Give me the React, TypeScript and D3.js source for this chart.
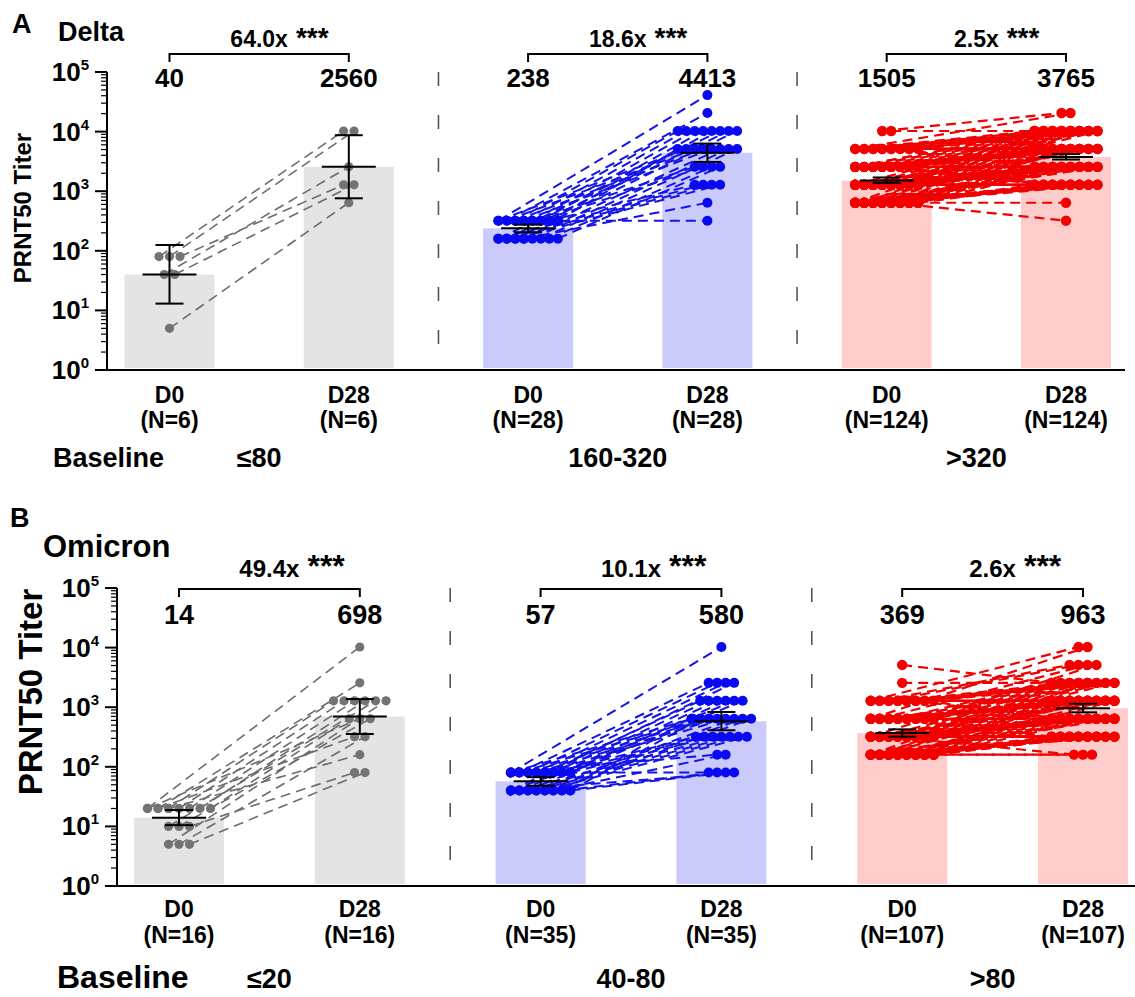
import React from 'react';
import * as d3 from 'd3';

const WIDTH = 1135;
const HEIGHT = 997;

type Triple = [number, number, number]; // [D0 titer, D28 titer, number of subjects]

const timepoints = ['D0', 'D28'];

// ---- Delta ----
const deltaBaseline = ['≤80', '160-320', '>320'];
const deltaN = [6, 28, 124];
const deltaGMT = [[40, 2560], [238, 4413], [1505, 3765]];
const deltaFold = ['64.0x', '18.6x', '2.5x'];
const deltaCI = [
  [[13, 125], [760, 8700]],
  [[205, 275], [3100, 6300]],
  [[1380, 1700], [3400, 4200]],
];
const deltaPairs: Triple[][] = [
  [[80, 10240, 2], [80, 1280, 1], [40, 2560, 1], [40, 1280, 1], [5, 640, 1]],
  [
    [320, 40960, 1], [320, 20480, 1], [320, 10240, 5], [320, 5120, 5], [320, 2560, 2], [320, 1280, 1], [320, 320, 1],
    [160, 10240, 3], [160, 5120, 3], [160, 2560, 2], [160, 1280, 3], [160, 640, 1],
  ],
  [
    [10240, 20480, 1], [10240, 10240, 1],
    [5120, 20480, 1], [5120, 10240, 8], [5120, 5120, 4], [5120, 2560, 1], [5120, 1280, 1],
    [2560, 10240, 10], [2560, 5120, 10], [2560, 2560, 7], [2560, 1280, 3],
    [1280, 10240, 7], [1280, 5120, 10], [1280, 2560, 15], [1280, 1280, 8],
    [640, 10240, 4], [640, 5120, 6], [640, 2560, 15], [640, 1280, 10], [640, 640, 1], [640, 320, 1],
  ],
];

// ---- Omicron ----
const omicronBaseline = ['≤20', '40-80', '>80'];
const omicronN = [16, 35, 107];
const omicronGMT = [[14, 698], [57, 580], [369, 963]];
const omicronFold = ['49.4x', '10.1x', '2.6x'];
const omicronCI = [
  [[10.5, 18.8], [355, 1370]],
  [[48, 67], [410, 830]],
  [[320, 425], [820, 1140]],
];
const omicronPairs: Triple[][] = [
  [
    [20, 10240, 1], [20, 2560, 1], [20, 1280, 4], [20, 640, 2], [20, 320, 1], [20, 160, 1],
    [10, 1280, 1], [10, 640, 1], [10, 80, 1],
    [5, 1280, 1], [5, 320, 1], [5, 80, 1],
  ],
  [
    [80, 10240, 1], [80, 2560, 3], [80, 1280, 4], [80, 640, 5], [80, 320, 3], [80, 160, 1], [80, 80, 1],
    [40, 2560, 1], [40, 1280, 2], [40, 640, 6], [40, 320, 4], [40, 160, 1], [40, 80, 3],
  ],
  [
    [5120, 2560, 1], [2560, 2560, 1],
    [1280, 10240, 1], [1280, 5120, 2], [1280, 2560, 5], [1280, 1280, 5], [1280, 640, 2],
    [640, 10240, 1], [640, 5120, 1], [640, 2560, 6], [640, 1280, 7], [640, 640, 4], [640, 320, 1],
    [320, 5120, 1], [320, 2560, 5], [320, 1280, 10], [320, 640, 10], [320, 320, 8], [320, 160, 1],
    [160, 2560, 3], [160, 1280, 7], [160, 640, 10], [160, 320, 13], [160, 160, 2],
  ],
];

const groupStyles = [
  { bar: '#e4e4e4', dot: '#737373', line: '#6c6c6c', r: 4.6, lw: 1.6, spacing: 10.5, maxCols: 7 },
  { bar: '#cacafb', dot: '#0a0af2', line: '#1414e6', r: 5, lw: 2, spacing: 8.5, maxCols: 8 },
  { bar: '#ffcccc', dot: '#f50000', line: '#f00000', r: 5.2, lw: 2.2, spacing: 9, maxCols: 8 },
];

const FONT = '"Liberation Sans", Arial, sans-serif';

const panelA = {
  letter: 'A', title: 'Delta',
  baseline: deltaBaseline, n: deltaN, gmt: deltaGMT, fold: deltaFold, ci: deltaCI, pairs: deltaPairs,
  L: {
    axisX: 107, yTop: 72, yBottom: 370, x0: 169.5, x5: 1066, xEnd: 1125,
    letterX: 12, letterY: 33, letterFs: 27, titleX: 58, titleY: 41, titleFs: 27,
    foldY: 47, foldFs: 23, starFs: 28, bracketY: 54,
    valueY: 87, valueFs: 26,
    dayY: 403, nY: 428, labelFs: 23,
    baselineY: 467, baselineFs: 27, baselineX: 53, groupFs: 27,
    yLabelX: 22, yLabelY: 208, yLabelFs: 24,
  },
};

const panelB = {
  letter: 'B', title: 'Omicron',
  baseline: omicronBaseline, n: omicronN, gmt: omicronGMT, fold: omicronFold, ci: omicronCI, pairs: omicronPairs,
  L: {
    axisX: 117, yTop: 588, yBottom: 886, x0: 179, x5: 1083, xEnd: 1135,
    letterX: 10, letterY: 527, letterFs: 27, titleX: 43, titleY: 557, titleFs: 31,
    foldY: 577, foldFs: 24, starFs: 32, bracketY: 589,
    valueY: 624, valueFs: 27,
    dayY: 917, nY: 943, labelFs: 23,
    baselineY: 988, baselineFs: 32, baselineX: 57, groupFs: 27,
    yLabelX: 30, yLabelY: 692, yLabelFs: 33,
  },
};

const charW: Record<string, number> = { '.': 0.278 };
const textWidth = (s: string, fs: number) => d3.sum(s.split(''), c => charW[c] ?? 0.556) * fs;

// place the points of one timepoint in rows, wrapping (overlapping) when a row is full
function swarm(values: number[], cx: number, spacing: number, maxCols: number) {
  const xs: number[] = new Array(values.length);
  const rows = d3.group(d3.range(values.length), i => values[i]);
  rows.forEach(idx => {
    const cols = Math.min(idx.length, maxCols);
    idx.forEach((si, k) => {
      xs[si] = cx + ((k % maxCols) - (cols - 1) / 2) * spacing;
    });
  });
  return xs;
}

function Panel({ spec }: { spec: typeof panelA }) {
  const L = spec.L;
  const y = d3.scaleLog().domain([1, 1e5]).range([L.yBottom, L.yTop]);
  const x = d3.scaleLinear().domain([0, 5]).range([L.x0, L.x5]);
  const barW = 90;

  const majors = d3.range(0, 6).map(k => Math.pow(10, k));
  const minors = d3.range(0, 5).flatMap(k => d3.range(2, 10).map(m => m * Math.pow(10, k)));

  const groups = spec.pairs.map((pairs, g) => {
    const subjects = pairs.flatMap(([a, b, n]) => d3.range(n).map(() => [a, b]));
    const st = groupStyles[g];
    const c0 = x(g * 2);
    const c1 = x(g * 2 + 1);
    const x0s = swarm(subjects.map(s => s[0]), c0, st.spacing, st.maxCols);
    const x1s = swarm(subjects.map(s => s[1]), c1, st.spacing, st.maxCols);
    return { subjects, st, c0, c1, x0s, x1s };
  });

  return (
    <g fontFamily={FONT} fontWeight="bold">
      {/* bars */}
      {groups.map((G, g) => [0, 1].map(t => {
        const cx = t === 0 ? G.c0 : G.c1;
        return (
          <rect key={`bar${g}${t}`} x={cx - barW / 2} y={y(spec.gmt[g][t])} width={barW}
            height={y(1) - 2 - y(spec.gmt[g][t])} fill={G.st.bar} />
        );
      }))}

      {/* separators */}
      {[1, 2].map(s => (
        <line key={`sep${s}`} x1={(x(s * 2 - 1) + x(s * 2)) / 2} x2={(x(s * 2 - 1) + x(s * 2)) / 2}
          y1={y(1e5)} y2={y(1)} stroke="#555" strokeWidth={1.6} strokeDasharray="14,29" />
      ))}

      {/* paired lines and points */}
      {groups.map((G, g) => (
        <g key={`grp${g}`}>
          {G.subjects.map((s, i) => (
            <line key={`l${i}`} x1={G.x0s[i]} y1={y(s[0])} x2={G.x1s[i]} y2={y(s[1])}
              stroke={G.st.line} strokeWidth={G.st.lw} strokeDasharray="10,6" />
          ))}
          {G.subjects.map((s, i) => (
            <circle key={`a${i}`} cx={G.x0s[i]} cy={y(s[0])} r={G.st.r} fill={G.st.dot} />
          ))}
          {G.subjects.map((s, i) => (
            <circle key={`b${i}`} cx={G.x1s[i]} cy={y(s[1])} r={G.st.r} fill={G.st.dot} />
          ))}
        </g>
      ))}

      {/* geometric mean and 95% CI */}
      {groups.map((G, g) => [0, 1].map(t => {
        const cx = t === 0 ? G.c0 : G.c1;
        const [lo, hi] = spec.ci[g][t];
        return (
          <g key={`eb${g}${t}`} stroke="#000" strokeWidth={2}>
            <line x1={cx} x2={cx} y1={y(lo)} y2={y(hi)} />
            <line x1={cx - 14} x2={cx + 14} y1={y(lo)} y2={y(lo)} />
            <line x1={cx - 14} x2={cx + 14} y1={y(hi)} y2={y(hi)} />
            <line x1={cx - 27} x2={cx + 27} y1={y(spec.gmt[g][t])} y2={y(spec.gmt[g][t])} />
          </g>
        );
      }))}

      {/* axes */}
      <line x1={L.axisX} x2={L.axisX} y1={y(1e5)} y2={y(1) + 1} stroke="#000" strokeWidth={2} />
      <line x1={L.axisX - 1} x2={L.xEnd} y1={y(1)} y2={y(1)} stroke="#000" strokeWidth={2} />
      {majors.map(v => (
        <line key={`M${v}`} x1={L.axisX - 12} x2={L.axisX} y1={y(v)} y2={y(v)} stroke="#000" strokeWidth={2} />
      ))}
      {minors.map(v => (
        <line key={`m${v}`} x1={L.axisX - 6} x2={L.axisX} y1={y(v)} y2={y(v)} stroke="#000" strokeWidth={1.2} />
      ))}
      {majors.map((v, k) => (
        <text key={`t${v}`} x={L.axisX - 18} y={y(v) + 9} textAnchor="end" fontSize={26}>
          10<tspan fontSize={15} dy={-11}>{k}</tspan>
        </text>
      ))}
      <text transform={`translate(${L.yLabelX},${L.yLabelY}) rotate(-90)`} textAnchor="middle"
        dominantBaseline="central" fontSize={L.yLabelFs}>PRNT50 Titer</text>

      {/* panel letter and title */}
      <text x={L.letterX} y={L.letterY} fontSize={L.letterFs}>{spec.letter}</text>
      <text x={L.titleX} y={L.titleY} fontSize={L.titleFs}>{spec.title}</text>

      {/* brackets, fold change, GMT values */}
      {groups.map((G, g) => {
        const mid = (G.c0 + G.c1) / 2;
        const w = textWidth(spec.fold[g], L.foldFs);
        return (
          <g key={`br${g}`}>
            <path d={`M${G.c0},${L.bracketY + 8}V${L.bracketY}H${G.c1}V${L.bracketY + 8}`}
              fill="none" stroke="#000" strokeWidth={2} />
            <text x={mid} y={L.foldY} textAnchor="middle" fontSize={L.foldFs}>{spec.fold[g]}</text>
            <text x={mid + w / 2 + 8} y={L.foldY} fontSize={L.starFs}>***</text>
            {[0, 1].map(t => (
              <text key={t} x={t === 0 ? G.c0 : G.c1} y={L.valueY} textAnchor="middle" fontSize={L.valueFs}>
                {spec.gmt[g][t]}
              </text>
            ))}
            {[0, 1].map(t => (
              <g key={`d${t}`} fontSize={L.labelFs} textAnchor="middle">
                <text x={t === 0 ? G.c0 : G.c1} y={L.dayY}>{timepoints[t]}</text>
                <text x={t === 0 ? G.c0 : G.c1} y={L.nY}>{`(N=${spec.n[g]})`}</text>
              </g>
            ))}
            <text x={mid} y={L.baselineY} textAnchor="middle" fontSize={L.groupFs}>{spec.baseline[g]}</text>
          </g>
        );
      })}
      <text x={L.baselineX} y={L.baselineY} fontSize={L.baselineFs}>Baseline</text>
    </g>
  );
}

export default function App() {
  return (
    <svg width={WIDTH} height={HEIGHT} style={{ position: 'absolute', left: 0, top: 0, background: '#fff' }}>
      <rect width={WIDTH} height={HEIGHT} fill="#fff" />
      <Panel spec={panelA} />
      <Panel spec={panelB} />
    </svg>
  );
}
